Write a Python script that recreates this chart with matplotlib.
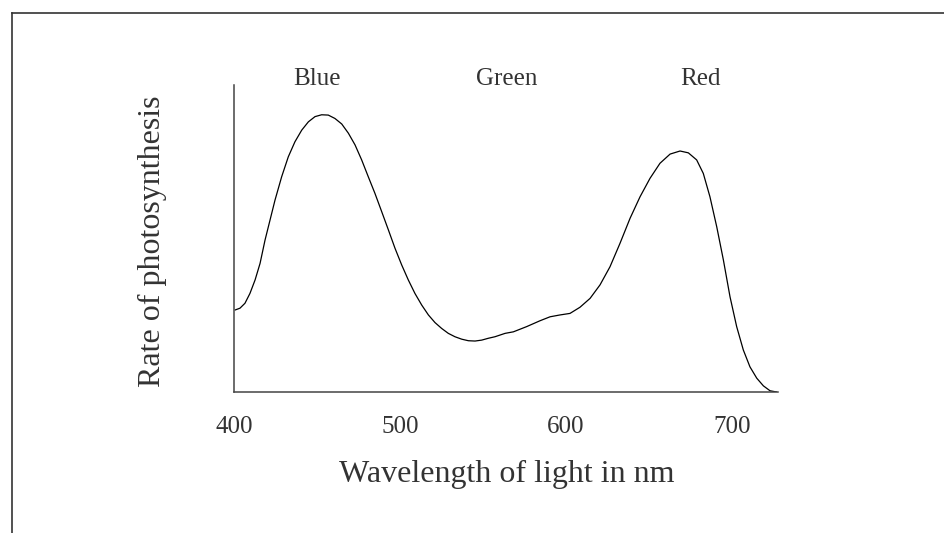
import matplotlib
import matplotlib.pyplot as plt
from matplotlib.lines import Line2D

matplotlib.use("Agg")
plt.rcParams["font.family"] = ["Liberation Serif", "DejaVu Serif"]

# Data (rate in arbitrary units, 0-100)
wavelength = [400.6, 403.6, 406.6, 409.6, 412.7, 415.7, 418.7, 421.7, 424.7,
              428.7, 432.7, 436.7, 440.8, 444.8, 448.8, 452.8, 456.8, 460.8,
              464.9, 468.9, 472.9, 476.9, 480.9, 484.9, 489.0, 493.0, 497.0,
              501.0, 505.0, 509.0, 513.1, 517.1, 521.1, 525.1, 529.1, 533.1,
              537.2, 541.2, 545.2, 549.2, 553.2, 557.2, 563.3, 568.3, 576.3,
              584.3, 590.4, 596.4, 602.4, 608.4, 614.5, 620.5, 626.5, 632.5,
              638.6, 644.6, 650.6, 656.6, 662.7, 668.7, 673.7, 678.7, 682.7,
              686.7, 690.8, 694.8, 698.8, 702.8, 706.8, 710.8, 714.9, 718.9,
              722.9, 726.9]
rate = [26.7, 27.3, 28.9, 32.1, 36.5, 41.9, 49.5, 56.0, 62.5,
        70.1, 76.6, 81.5, 85.3, 88.0, 89.7, 90.3, 90.2, 89.1,
        87.3, 84.3, 80.5, 75.6, 70.1, 64.7, 58.7, 52.8, 46.8,
        41.4, 36.5, 32.1, 28.3, 25.1, 22.6, 20.7, 19.1, 18.0,
        17.2, 16.7, 16.6, 16.9, 17.5, 18.0, 19.1, 19.6, 21.3,
        23.2, 24.5, 25.1, 25.6, 27.6, 30.5, 34.9, 40.8, 48.4,
        56.6, 63.6, 69.6, 74.5, 77.5, 78.5, 77.9, 75.6, 71.2,
        63.6, 53.8, 43.0, 31.0, 21.3, 13.7, 8.2, 4.5, 2.0,
        0.4, 0.0]

tick_values = [400, 500, 600, 700]
tick_labels = ["400", "500", "600", "700"]

band_names = ["Blue", "Green", "Red"]
band_centres = [450, 564, 681]

W, H = 944, 533
fig = plt.figure(figsize=(W / 100, H / 100), dpi=100)
ax = fig.add_axes([234 / W, 1 - 392 / H, 544 / W, 307 / H])

ax.plot(wavelength, rate, color="black", lw=0.9,
        solid_capstyle="round", solid_joinstyle="round")
ax.set_xlim(400, 727.7)
ax.set_ylim(0, 100)

for side in ("top", "right"):
    ax.spines[side].set_visible(False)
for side in ("left", "bottom"):
    ax.spines[side].set_color("#444444")
    ax.spines[side].set_linewidth(1.1)

ax.set_yticks([])
ax.set_xticks(tick_values, tick_labels)
ax.tick_params(axis="x", length=0, pad=17, labelsize=18, labelcolor="#333333")

for name, centre in zip(band_names, band_centres):
    ax.text(centre, 1.0, name, transform=ax.get_xaxis_transform(),
            ha="center", va="baseline", fontsize=18, color="#333333")

fig.text(152 / W, 1 - 241 / H, "Rate of photosynthesis", rotation=90,
         ha="center", va="center", fontsize=23, color="#333333")
fig.text(507 / W, 1 - 474 / H, "Wavelength of light in nm",
         ha="center", va="center", fontsize=23, color="#333333")

# outer frame (top and left edges only)
fig.add_artist(Line2D([12 / W, 1.0], [1 - 13 / H, 1 - 13 / H],
                      transform=fig.transFigure, color="#333333", lw=1.2))
fig.add_artist(Line2D([12 / W, 12 / W], [1 - 13 / H, 0.0],
                      transform=fig.transFigure, color="#333333", lw=1.2))

fig.savefig("out.png", dpi=100, facecolor="white")
